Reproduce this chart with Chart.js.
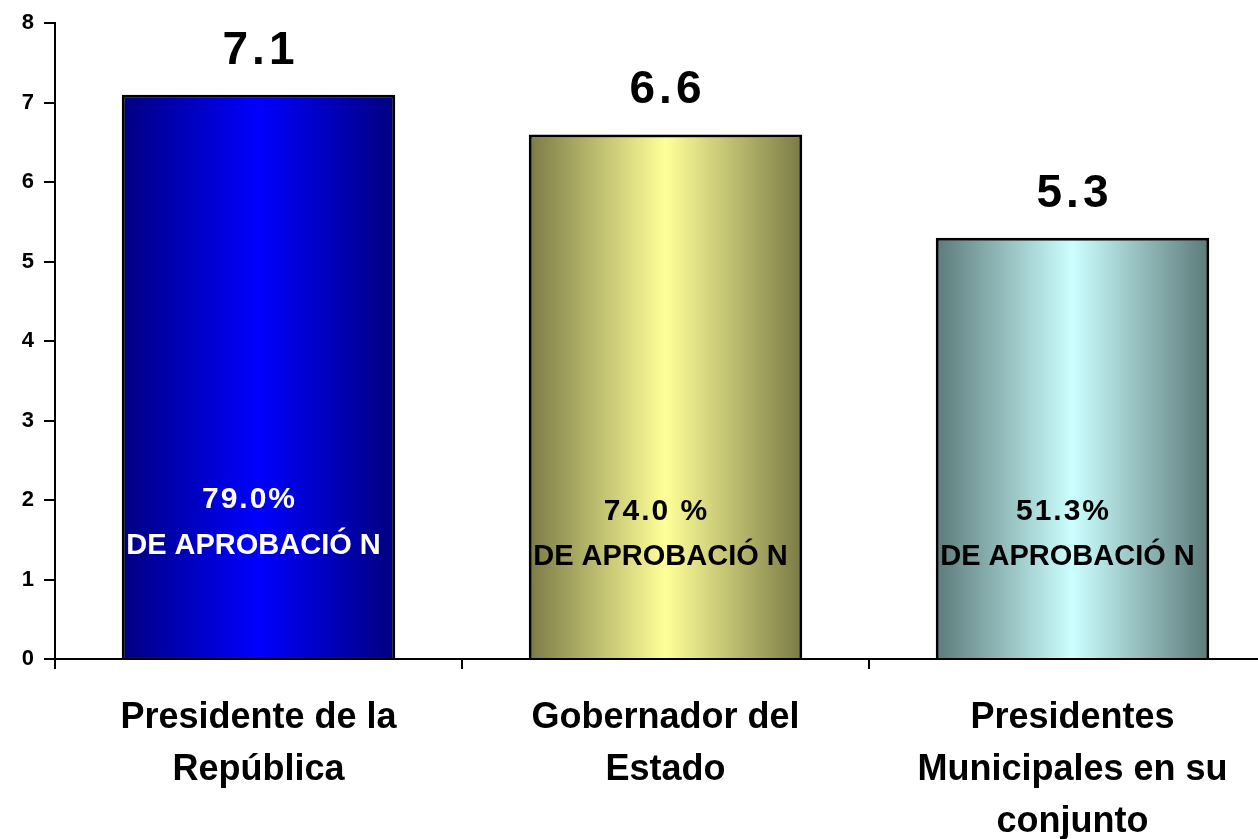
<!DOCTYPE html>
<html>
<head>
<meta charset="utf-8">
<script src="https://cdn.jsdelivr.net/npm/chart.js@4.4.0/dist/chart.umd.min.js"></script>
<style>
  html, body { margin: 0; padding: 0; background: #fff; overflow: hidden; }
  #wrap { width: 1258px; height: 839px; overflow: hidden; }
</style>
</head>
<body>
<div id="wrap"><canvas id="chart" width="1276" height="839"></canvas></div>
<script>
// data
const categories = [
  ['Presidente de la', 'República'],
  ['Gobernador del', 'Estado'],
  ['Presidentes', 'Municipales en su', 'conjunto']
];
const values = [7.1, 6.6, 5.3];
const valueLabels = ['7.1', '6.6', '5.3'];
const approvalLabels = ['79.0%', '74.0 %', '51.3%'];
const approvalText = 'DE APROBACIÓ N';
const yTicks = [0, 1, 2, 3, 4, 5, 6, 7, 8];

// gradient colours: [edge, centre]
const barColors = [
  ['#000080', '#0000ff'],
  ['#7a7a46', '#ffff99'],
  ['#5c7a7a', '#ccffff']
];
const textColors = ['#ffffff', '#000000', '#000000'];
const labelY = [[2.0, 1.42], [1.85, 1.28], [1.85, 1.28]];

const FONT = '"Liberation Sans", Arial, sans-serif';

const gradientBars = {
  id: 'gradientBars',
  beforeDatasetsDraw(chart) {
    const ctx = chart.ctx;
    chart.getDatasetMeta(0).data.forEach((bar, i) => {
      const left = bar.x - bar.width / 2, right = bar.x + bar.width / 2;
      const g = ctx.createLinearGradient(left, 0, right, 0);
      g.addColorStop(0, barColors[i][0]);
      g.addColorStop(0.5, barColors[i][1]);
      g.addColorStop(1, barColors[i][0]);
      bar.options.backgroundColor = g;
    });
  }
};

const barLabels = {
  id: 'barLabels',
  afterDatasetsDraw(chart) {
    const ctx = chart.ctx;
    const y = chart.scales.y;
    ctx.save();
    ctx.textAlign = 'center';
    chart.getDatasetMeta(0).data.forEach((bar, i) => {
      // value on top
      ctx.fillStyle = '#000';
      ctx.font = 'bold 46px ' + FONT;
      ctx.letterSpacing = '4px';
      ctx.textBaseline = 'alphabetic';
      ctx.fillText(valueLabels[i], bar.x + 2, bar.y - 31);
      // approval text inside the bar
      ctx.fillStyle = textColors[i];
      ctx.textBaseline = 'middle';
      ctx.font = 'bold 30px ' + FONT;
      ctx.letterSpacing = '2px';
      ctx.fillText(approvalLabels[i], bar.x - 9, y.getPixelForValue(labelY[i][0]));
      ctx.letterSpacing = '0px';
      ctx.font = 'bold 29px ' + FONT;
      ctx.fillText(approvalText, bar.x - 5, y.getPixelForValue(labelY[i][1]));
    });
    ctx.restore();
  }
};

new Chart(document.getElementById('chart'), {
  type: 'bar',
  data: {
    labels: categories,
    datasets: [{
      data: values,
      backgroundColor: barColors.map(c => c[1]),
      borderColor: '#000',
      borderWidth: 3,
      borderSkipped: 'bottom',
      barPercentage: 0.672,
      categoryPercentage: 1
    }]
  },
  options: {
    responsive: false,
    animation: false,
    layout: { padding: { top: 21, right: 0, left: 0, bottom: 0 } },
    plugins: { legend: { display: false }, tooltip: { enabled: false } },
    scales: {
      x: {
        grid: { display: true, drawOnChartArea: false, offset: true, color: '#000', lineWidth: 2, tickLength: 10 },
        border: { display: true, color: '#000', width: 2 },
        ticks: {
          color: '#000',
          font: { family: FONT, size: 36, weight: 'bold', lineHeight: 1.45 },
          padding: 23,
          maxRotation: 0,
          autoSkip: false
        },
        afterFit(scale) { scale.height = 180; }
      },
      y: {
        min: 0,
        max: 8,
        afterBuildTicks(scale) { scale.ticks = yTicks.map(v => ({ value: v })); },
        grid: { display: true, drawOnChartArea: false, color: '#000', lineWidth: 2, tickLength: 11 },
        border: { display: true, color: '#000', width: 2 },
        ticks: {
          color: '#000',
          font: { family: FONT, size: 22, weight: 'bold' },
          padding: 10
        },
        afterFit(scale) { scale.width = 55; }
      }
    }
  },
  plugins: [gradientBars, barLabels]
});
</script>
</body>
</html>
